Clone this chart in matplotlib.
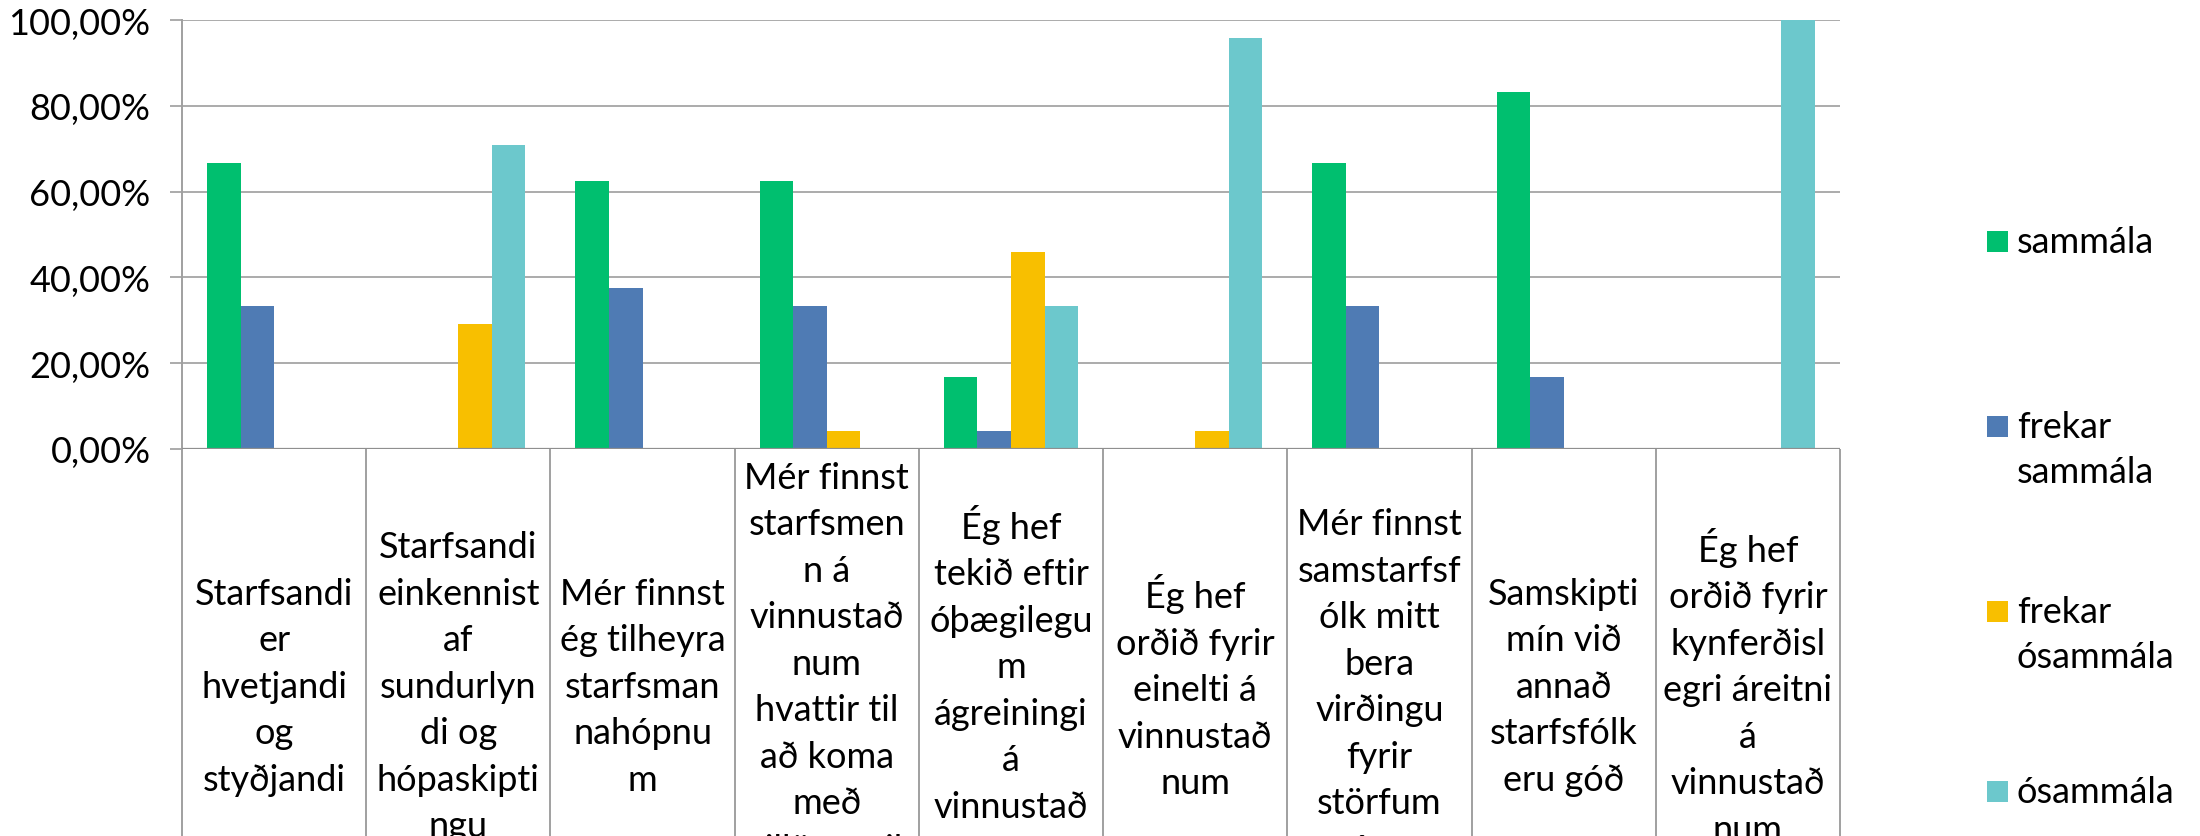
import numpy as np
import matplotlib
matplotlib.use('Agg')
import matplotlib.pyplot as plt
import matplotlib.patches as mpatches

plt.rcParams['font.family'] = ['Lato', 'DejaVu Sans']

# category labels, wrapped the same way as in the original
categories = [
    'Starfsandi\ner\nhvetjandi\nog\nstyðjandi',
    'Starfsandi\neinkennist\naf\nsundurlyn\ndi og\nhópaskipti\nngu',
    'Mér finnst\nég tilheyra\nstarfsman\nnahópnu\nm',
    'Mér finnst\nstarfsmen\nn á\nvinnustað\nnum\nhvattir til\nað koma\nmeð\ntillögur til\núrbóta',
    'Ég hef\ntekið eftir\nóþægilegu\nm\nágreiningi\ná\nvinnustað\nnum',
    'Ég hef\norðið fyrir\neinelti á\nvinnustað\nnum',
    'Mér finnst\nsamstarfsf\nólk mitt\nbera\nvirðingu\nfyrir\nstörfum\nmínum',
    'Samskipti\nmín við\nannað\nstarfsfólk\neru góð',
    'Ég hef\norðið fyrir\nkynferðisl\negri áreitni\ná\nvinnustað\nnum',
]

series_names = ['sammála', 'frekar\nsammála', 'frekar\nósammála', 'ósammála']
colors = ['#00BF6F', '#4F7BB4', '#F8BF00', '#6CC8CC']

sammala = [0.6667, 0.0, 0.625, 0.625, 0.1667, 0.0, 0.6667, 0.8333, 0.0]
frekar_sammala = [0.3333, 0.0, 0.375, 0.3333, 0.0417, 0.0, 0.3333, 0.1667, 0.0]
frekar_osammala = [0.0, 0.2917, 0.0, 0.0417, 0.4583, 0.0417, 0.0, 0.0, 0.0]
osammala = [0.0, 0.7083, 0.0, 0.0, 0.3333, 0.9583, 0.0, 0.0, 1.0]

series = [sammala, frekar_sammala, frekar_osammala, osammala]
y_ticks = [0.0, 0.2, 0.4, 0.6, 0.8, 1.0]

W, H = 2200, 837
fig = plt.figure(figsize=(W / 100, H / 100), dpi=100)
ax = fig.add_axes([182 / W, 1 - 450 / H, (1840 - 182) / W, (450 - 21) / H])

x = np.arange(len(categories))
w = 0.182
for k, (vals, c) in enumerate(zip(series, colors)):
    ax.bar(x + (k - 1.5) * w, vals, w, color=c, linewidth=0, zorder=3)

ax.set_xlim(-0.5, len(categories) - 0.5)
ax.set_ylim(0, 1)
ax.set_yticks(y_ticks)
ax.set_yticklabels([('%.2f%%' % (v * 100)).replace('.', ',') for v in y_ticks])

grid_col = '#ABABAB'
ax.set_axisbelow(True)
ax.yaxis.grid(True, color=grid_col, linewidth=1.4)
ax.axhline(0, color='#8F8F8F', linewidth=1.6, zorder=4)
for s in ['top', 'right', 'bottom']:
    ax.spines[s].set_visible(False)
ax.spines['left'].set_color('#A0A0A0')
ax.spines['left'].set_linewidth(1.4)

ax.tick_params(axis='y', direction='out', length=8.6, width=1.4, color=grid_col,
               pad=14, labelsize=26)
ax.set_xticks(x)
ax.set_xticklabels(categories)
ax.tick_params(axis='x', length=0, pad=171, labelsize=26)
for lab in ax.get_xticklabels():
    lab.set_va('center')
    lab.set_linespacing(1.50)

# table-like dividers under the axis
ax.vlines(np.arange(len(categories) + 1) - 0.5, -0.95, 0, transform=ax.get_xaxis_transform(),
          colors='#A0A0A0', linewidth=1.4, clip_on=False)

# legend on the right, one text per line so the square sits on the first line
baselines = [253, 438, 623, 803]
for name, c, base in zip(series_names, colors, baselines):
    fig.add_artist(mpatches.Rectangle((1987 / W, 1 - base / H), 21 / W, 21 / H,
                                      transform=fig.transFigure, color=c, linewidth=0))
    for i, line in enumerate(name.split('\n')):
        fig.text(2017 / W, 1 - (base + 45 * i) / H, line, fontsize=26,
                 va='baseline', ha='left')

fig.savefig('out.png', dpi=100)
